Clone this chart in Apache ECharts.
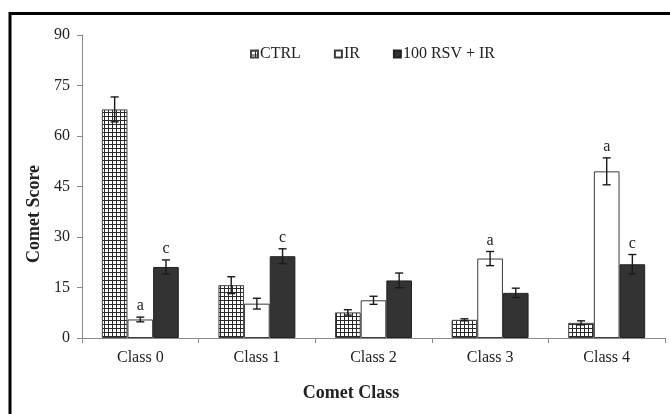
<!DOCTYPE html>
<html>
<head>
<meta charset="utf-8">
<script src="https://cdn.jsdelivr.net/npm/echarts@6/dist/echarts.min.js"></script>
<style>html,body{margin:0;padding:0;background:#fff}#c{width:670px;height:414px}</style>
</head>
<body>
<div id="c"></div>
<script>
var categories = ['Class 0', 'Class 1', 'Class 2', 'Class 3', 'Class 4'];
var seriesNames = ['CTRL', 'IR', '100 RSV + IR'];
var ctrlValues = [67.9, 15.7, 7.6, 5.4, 4.5];
var ctrlErrors = [3.7, 2.5, 0.8, 0.3, 0.6];
var irValues = [5.5, 10.2, 11.2, 23.6, 49.5];
var irErrors = [0.7, 1.6, 1.2, 2.1, 4.0];
var rsvValues = [21.1, 24.3, 17.1, 13.4, 21.9];
var rsvErrors = [2.1, 2.2, 2.2, 1.4, 2.9];
var irLetters = ['a', '', '', 'a', 'a'];
var rsvLetters = ['c', 'c', '', '', 'c'];
var yTicks = [0, 15, 30, 45, 60, 75, 90];

var FONT = '"Liberation Serif", "Times New Roman", serif';

function makePattern() {
  var cv = document.createElement('canvas');
  cv.width = 4; cv.height = 4;
  var ctx = cv.getContext('2d');
  ctx.fillStyle = '#ffffff';
  ctx.fillRect(0, 0, 4, 4);
  ctx.fillStyle = '#2a2a2a';
  ctx.fillRect(0, 0, 4, 1);
  ctx.fillRect(0, 0, 1, 4);
  return cv;
}
var pattern = { image: makePattern(), repeat: 'repeat' };

var allValues = [ctrlValues, irValues, rsvValues];
var allErrors = [ctrlErrors, irErrors, rsvErrors];
var allLetters = [[], irLetters, rsvLetters];

var errData = [];
for (var s = 0; s < 3; s++) {
  for (var i = 0; i < categories.length; i++) {
    errData.push([i, allValues[s][i], allErrors[s][i], s, (allLetters[s][i] || '')]);
  }
}

var CAT_GAP = 0.34;

function renderErr(params, api) {
  var ci = api.value(0), v = api.value(1), e = api.value(2), s = api.value(3);
  var letter = errData[params.dataIndex][4];
  var band = api.size([1, 0])[0];
  var bw = band * (1 - CAT_GAP) / 3;
  var center = api.coord([ci, 0])[0];
  var x = center + (s - 1) * bw;
  var top = api.coord([ci, v + e])[1];
  var bot = api.coord([ci, Math.max(v - e, 0)])[1];
  var hw = 4;
  var st = { stroke: '#1a1a1a', lineWidth: 1.4 };
  var children = [
    { type: 'line', shape: { x1: x, y1: top, x2: x, y2: bot }, style: st },
    { type: 'line', shape: { x1: x - hw, y1: top, x2: x + hw, y2: top }, style: st },
    { type: 'line', shape: { x1: x - hw, y1: bot, x2: x + hw, y2: bot }, style: st }
  ];
  if (letter) {
    children.push({ type: 'text', x: x, y: top - 3, style: { text: letter, fill: '#222', font: '16px ' + FONT, align: 'center', verticalAlign: 'bottom' } });
  }
  return { type: 'group', children: children };
}

var chart = echarts.init(document.getElementById('c'), null, { renderer: 'canvas' });
chart.setOption({
  animation: false,
  backgroundColor: '#fff',
  textStyle: { fontFamily: FONT },
  grid: { left: 82, right: 5, top: 35, bottom: 76 },
  legend: {
    left: 245, top: 41,
    itemWidth: 7, itemHeight: 7, itemGap: 33,
    icon: 'rect',
    textStyle: { fontFamily: FONT, fontSize: 16, color: '#222', padding: [0, 0, 0, -3] },
    data: seriesNames
  },
  xAxis: {
    type: 'category',
    data: categories,
    axisLine: { lineStyle: { color: '#8a8a8a', width: 1 } },
    axisTick: { show: true, length: 5, lineStyle: { color: '#8a8a8a' } },
    axisLabel: { fontFamily: FONT, fontSize: 16, color: '#222', margin: 12 }
  },
  yAxis: {
    type: 'value', min: 0, max: 90, interval: 15,
    axisLine: { show: true, lineStyle: { color: '#8a8a8a', width: 1 } },
    axisTick: { show: true, length: 5, lineStyle: { color: '#8a8a8a' } },
    splitLine: { show: false },
    axisLabel: { fontFamily: FONT, fontSize: 16, color: '#222', margin: 12,
      formatter: function (v) { return yTicks.indexOf(v) >= 0 ? String(v) : ''; } }
  },
  graphic: [
    { type: 'rect', shape: { x: 10, y: 13.5, width: 720, height: 500 }, style: { fill: 'none', stroke: '#000', lineWidth: 3 }, silent: true },
    { type: 'text', x: 34, y: 214, rotation: Math.PI / 2, style: { text: 'Comet Score', font: 'bold 18px ' + FONT, fill: '#222', align: 'center', verticalAlign: 'middle' } },
    { type: 'text', x: 351, y: 393, style: { text: 'Comet Class', font: 'bold 18px ' + FONT, fill: '#222', align: 'center', verticalAlign: 'middle' } }
  ],
  series: [
    { name: seriesNames[0], type: 'bar', data: ctrlValues, barGap: '0%', barCategoryGap: '34%',
      itemStyle: { color: pattern, borderColor: '#444', borderWidth: 1 } },
    { name: seriesNames[1], type: 'bar', data: irValues, barGap: '0%', barCategoryGap: '34%',
      itemStyle: { color: '#ffffff', borderColor: '#3a3a3a', borderWidth: 1 } },
    { name: seriesNames[2], type: 'bar', data: rsvValues, barGap: '0%', barCategoryGap: '34%',
      itemStyle: { color: '#333333', borderColor: '#222', borderWidth: 1 } },
    { type: 'custom', renderItem: renderErr, data: errData, z: 10, silent: true,
      encode: { x: 0, y: 1 } }
  ]
});
</script>
</body>
</html>
